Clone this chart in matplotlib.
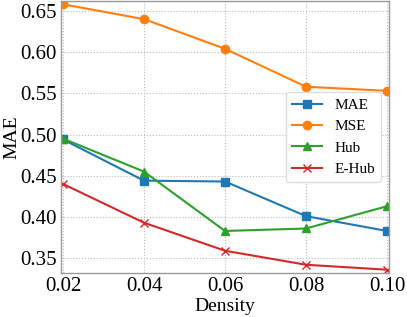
import matplotlib
matplotlib.use('Agg')
import matplotlib.pyplot as plt

density = [0.02, 0.04, 0.06, 0.08, 0.10]
mae = [0.494, 0.444, 0.443, 0.401, 0.383]
mse = [0.658, 0.640, 0.604, 0.558, 0.553]
hub = [0.495, 0.455, 0.383, 0.386, 0.413]
ehub = [0.440, 0.393, 0.359, 0.342, 0.336]
xticks = [0.02, 0.04, 0.06, 0.08, 0.10]
yticks = [0.35, 0.40, 0.45, 0.50, 0.55, 0.60, 0.65]

plt.rcParams['font.family'] = ['Liberation Serif', 'DejaVu Serif']

fig = plt.figure(figsize=(4.07, 3.17), dpi=100)
ax = fig.add_axes([61 / 407, 44 / 317, 328 / 407, 272 / 317])

ax.plot(density, mae, marker='s', markersize=6, color='#1f77b4', linewidth=1.5, label='MAE')
ax.plot(density, mse, marker='o', markersize=6, color='#ff7f0e', linewidth=1.5, label='MSE')
ax.plot(density, hub, marker='^', markersize=6, color='#2ca02c', linewidth=1.5, label='Hub')
ax.plot(density, ehub, marker='x', markersize=6, color='#d62728', linewidth=1.5, label='E-Hub')

ax.set_xlim(0.0195, 0.1005)
ax.set_ylim(0.332, 0.662)
ax.set_xticks(xticks)
ax.set_yticks(yticks)
ax.set_xticklabels(['%.2f' % v for v in xticks])
ax.set_yticklabels(['%.2f' % v for v in yticks])
ax.tick_params(labelsize=15, length=0, pad=3)

ax.set_xlabel('Density', fontsize=14, labelpad=1)
ax.set_ylabel('MAE', fontsize=14)
ax.yaxis.set_label_coords(-0.125, 0.5)

ax.grid(True, linestyle=':', color='#bbbbbb', linewidth=0.8)
for s in ax.spines.values():
    s.set_color('#999999')
    s.set_linewidth(1.0)

ax.legend(loc='center right', fontsize=11, framealpha=1, edgecolor='#dddddd')

fig.savefig('out.png', dpi=100)
